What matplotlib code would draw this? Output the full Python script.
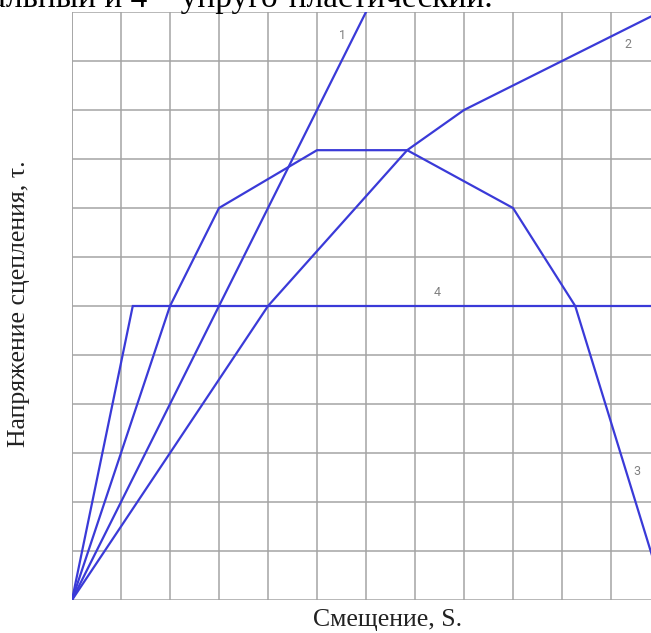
import numpy as np
import matplotlib
matplotlib.use("Agg")
import matplotlib.pyplot as plt

# grid units: one cell = 1 along both axes
curve1_s = [0, 6.0]
curve1_t = [0, 12.0]

curve2_s = [0, 4.0, 6.84, 8.0, 12.0]
curve2_t = [0, 6.0, 9.18, 10.0, 12.0]

curve3_s = [0, 2.0, 3.0, 5.0, 6.84, 9.0, 10.27, 12.0]
curve3_t = [0, 6.0, 8.0, 9.18, 9.18, 8.0, 6.0, 0.38]

curve4_s = [0, 1.24, 12.0]
curve4_t = [0, 6.0, 6.0]

labels = ["1", "2", "3", "4"]
label_s = [5.53, 11.35, 11.53, 7.45]
label_t = [11.53, 11.33, 2.63, 6.27]

W, H = 651, 633
fig = plt.figure(figsize=(W / 100, H / 100), dpi=100)
x0, y0, x1, y1 = 72, 600, 651, 12  # pixel corners of the grid
ax = fig.add_axes([x0 / W, (H - y0) / H, (x1 - x0) / W, (y0 - y1) / H])
ax.set_xlim(0, (x1 - x0) / 49)
ax.set_ylim(0, 12)

ax.set_xticks(np.arange(0, 12, 1))
ax.set_yticks(np.arange(0, 13, 1))
ax.grid(True, color="#a4a4a4", lw=1.1)
ax.tick_params(length=0, labelbottom=False, labelleft=False)
for sp in ax.spines.values():
    sp.set_visible(False)
ax.axvline(0, color="#a4a4a4", lw=1.1)

blue = "#3a3ad8"
for s, t in [(curve1_s, curve1_t), (curve2_s, curve2_t),
             (curve3_s, curve3_t), (curve4_s, curve4_t)]:
    ax.plot(s, t, color=blue, lw=1.6, solid_joinstyle="miter", zorder=3)

for lab, s, t in zip(labels, label_s, label_t):
    ax.text(s, t, lab, color="#808080", fontsize=9, family="Roboto",
            ha="center", va="center")

serif = "Liberation Serif"
# cropped line of the surrounding document text
fig.text(493 / W, 1 - 7 / H, "альный и 4 – упруго-пластический.",
         family=serif, fontsize=24, ha="right", va="baseline", color="black")
fig.text(19 / W, 1 - 304 / H, "Напряжение сцепления, τ.", family=serif,
         fontsize=18.5, rotation=90, ha="center", va="center", color="#222222")
fig.text(388 / W, 1 - 620 / H, "Смещение, S.", family=serif,
         fontsize=18.5, ha="center", va="center", color="#222222")

fig.savefig("out.png", dpi=100)
